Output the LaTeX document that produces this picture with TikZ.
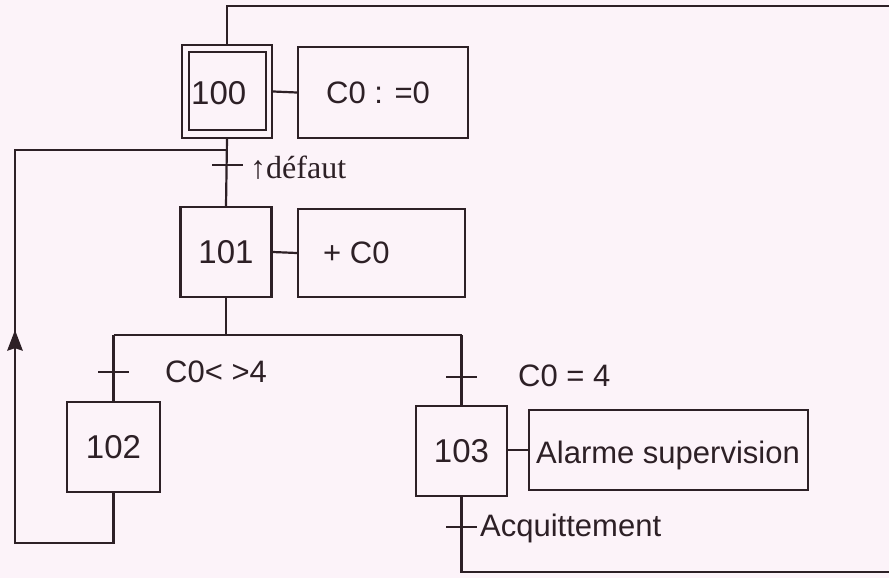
\documentclass[tikz,border=0pt]{standalone}
\usepackage{fontspec}
\setmainfont{Liberation Serif}
\newfontfamily\grafsans{Liberation Sans}
\usetikzlibrary{arrows.meta}
\definecolor{paper}{RGB}{252,243,249}
\definecolor{ink}{RGB}{45,32,38}
\tikzset{
  stepbox/.style={draw=ink, line width=2.2pt, minimum width=91pt, minimum height=90pt, inner sep=0pt, font=\grafsans\fontsize{33}{38}\selectfont, text=ink},
  actbox/.style={draw=ink, line width=2.2pt, inner sep=0pt},
  lbl/.style={anchor=west, inner sep=0pt, text=ink, font=\grafsans\fontsize{31}{36}\selectfont},
  link/.style={draw=ink, line width=2.2pt},
}
\begin{document}
\begin{tikzpicture}[x=1pt, y=-1pt]
    \fill[paper] (0,0) rectangle (889,578);
    \useasboundingbox (0,0) rectangle (889,578);
    % steps
    \node[stepbox, minimum width=90pt, minimum height=93pt] (s100) at (227,91.5) {};
    \node[stepbox, minimum width=77pt, minimum height=78pt] (s100i) at (227.5,91) {};
    \node[lbl, font=\grafsans\fontsize{33}{38}\selectfont] (n100) at (191,93) {100};
    \node[stepbox] (s101) at (226,252) {101};
    \node[stepbox, minimum width=93pt] (s102) at (113.5,447) {102};
    \node[stepbox] (s103) at (461.5,451) {103};
    % actions
    \node[actbox, minimum width=170pt, minimum height=91pt] (a100) at (383,92.5) {};
    \node[lbl] (t100) at (326,93) {C0 : =0};
    \node[actbox, minimum width=167pt, minimum height=88pt] (a101) at (381.5,253) {};
    \node[lbl] (t101) at (323,253) {+ C0};
    \node[actbox, minimum width=279pt, minimum height=80pt] (a103) at (668.5,450) {};
    \node[lbl] (t103) at (536,455) {Alarme supervision};
    \draw[link] (s100.east) -- (a100.west);
    \draw[link] (s101.east) -- (a101.west);
    \draw[link] (s103.east |- a103.west) -- (a103.west);
    % links and branches
    \coordinate (top) at (227,6);
    \coordinate (join) at (227,150);
    \coordinate (divl) at (113.5,335);
    \coordinate (divr) at (461.5,335);
    \coordinate (bot102) at (113.5,543);
    \coordinate (bot103) at (461.5,572);
    \draw[link] (s100.south) -- (s101.north);
    \draw[link] (s100.north) -- (top) -- (889,6);
    \draw[link] (s101.south) -- (s101.south |- divl);
    \draw[link] (divl) -- (divr);
    \draw[link] (divl) -- (s102.north);
    \draw[link] (divr) -- (s103.north);
    \draw[link] (s103.south) -- (bot103) -- (889,572);
    \draw[link] (s102.south) -- (bot102) -- (15,543) -- (15,150) -- (join);
    \draw[link, -{Stealth[scale=1.6, inset=1.5pt]}] (15,360) -- (15,330);
    % transitions
    \draw[link] (212,165) -- (243,165);
    \node[anchor=west, inner sep=0pt, text=ink, font=\fontsize{32}{36}\selectfont] (c1) at (250,168) {↑défaut};
    \draw[link] (98,372) -- (129,372);
    \node[lbl] (c2) at (165,372) {C0< >4};
    \draw[link] (446,377) -- (477,377);
    \node[lbl] (c3) at (518,376) {C0 = 4};
    \draw[link] (446,527) -- (477,527);
    \node[lbl] (c4) at (480,528) {Acquittement};
\end{tikzpicture}
\end{document}
